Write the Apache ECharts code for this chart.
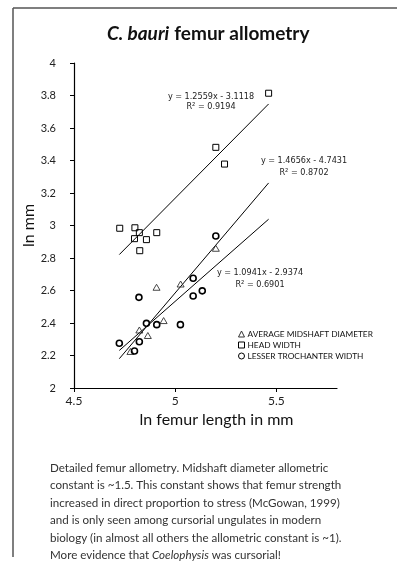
<!DOCTYPE html>
<html>
<head>
<meta charset="utf-8">
<script src="https://cdn.jsdelivr.net/npm/echarts@6/dist/echarts.min.js"></script>
<style>
html,body{margin:0;padding:0;background:#fff;}
#c{width:397px;height:566px;}
</style>
</head>
<body>
<div id="c"></div>
<script>
// ---- data ----
const seriesNames = ['Average midshaft diameter', 'Head width', 'Lesser trochanter width'];
const midX  = [4.779, 4.823, 4.865, 4.943, 4.908, 5.027, 5.201];
const midY  = [2.225, 2.357, 2.323, 2.415, 2.620, 2.640, 2.860];
const headX = [4.726, 4.801, 4.823, 4.799, 4.858, 4.909, 4.825, 5.201, 5.244, 5.462];
const headY = [2.983, 2.986, 2.956, 2.919, 2.913, 2.956, 2.845, 3.481, 3.378, 3.814];
const troX  = [4.724, 4.823, 4.799, 4.858, 4.909, 5.026, 4.821, 5.089, 5.089, 5.134, 5.201];
const troY  = [2.275, 2.285, 2.228, 2.398, 2.390, 2.390, 2.558, 2.675, 2.566, 2.598, 2.935];
// trendlines (head width, midshaft, trochanter), as printed on the chart
const trendSlope     = [1.2559, 1.4656, 1.0941];
const trendIntercept = [-3.1118, -4.7431, -2.9374];
const trendR2        = ['0.9194', '0.8702', '0.6901'];
const trendXRange    = [4.724, 5.462];
const xTicks = [4.5, 5, 5.5];

const zip = (xs, ys) => xs.map((x, i) => [x, ys[i]]);
const trendData = k => trendXRange.map(x => [x, trendSlope[k] * x + trendIntercept[k]]);
const eqText = k => 'y = ' + trendSlope[k] + 'x - ' + (-trendIntercept[k]).toFixed(4);
const r2Text = k => 'R\u00B2 = ' + trendR2[k];

const chart = echarts.init(document.getElementById('c'), null, {renderer: 'canvas'});
const F = 'Lato, "Open Sans", sans-serif';
const NARROW = '"Liberation Sans Narrow", "DejaVu Sans Condensed", Roboto, sans-serif';

const trendSeries = k => ({
  type: 'line', data: trendData(k), symbol: 'none', silent: true, z: 1,
  lineStyle: {color: '#000', width: 1}, animation: false
});

const eqLabel = (k, cx, y1, y2) => ([
  {type: 'text', x: cx, y: y1, style: {text: eqText(k), fill: '#222', font: '9px ' + NARROW, align: 'center', verticalAlign: 'middle'}},
  {type: 'text', x: cx, y: y2, style: {text: r2Text(k), fill: '#222', font: '9px ' + NARROW, align: 'center', verticalAlign: 'middle'}}
]);

const caption =
  'Detailed femur allometry. Midshaft diameter allometric\n' +
  'constant is ~1.5. This constant shows that femur strength\n' +
  'increased in direct proportion to stress (McGowan, 1999)\n' +
  'and is only seen among cursorial ungulates in modern\n' +
  'biology (in almost all others the allometric constant is ~1).\n' +
  'More evidence that {i|Coelophysis} was cursorial!';

chart.setOption({
  animation: false,
  backgroundColor: '#fff',
  title: {
    text: '{i|C. bauri} {b|femur allometry}',
    left: 102, top: 19,
    textStyle: {
      rich: {
        i: {fontFamily: F, fontSize: 19, fontWeight: 'bold', fontStyle: 'italic', color: '#111'},
        b: {fontFamily: F, fontSize: 19, fontWeight: 'bold', color: '#111'}
      }
    }
  },
  legend: {
    data: seriesNames,
    orient: 'vertical', left: 233, top: 325,
    itemWidth: 6, itemHeight: 6, itemGap: 3,
    formatter: n => n.toUpperCase(),
    itemStyle: {borderWidth: 1},
    textStyle: {fontFamily: F, fontSize: 8.3, color: '#111', lineHeight: 6, padding: [0, 0, 0, -2]},
    selectedMode: false
  },
  grid: {left: 74, right: 60, top: 63, bottom: 178, outerBoundsMode: 'none', containLabel: false},
  xAxis: {
    type: 'value', min: 4.5, max: 5.8, interval: 0.5,
    name: 'ln femur length in mm', nameLocation: 'middle', nameGap: 24, nameMoveOverlap: false,
    nameTextStyle: {fontFamily: F, fontSize: 16, color: '#111', padding: [0, 0, 0, 22]},
    axisLine: {show: true, onZero: false, lineStyle: {color: '#000', width: 1.2}},
    axisTick: {show: true, length: 4, customValues: xTicks, lineStyle: {color: '#000'}},
    axisLabel: {customValues: xTicks, fontFamily: F, fontSize: 12, color: '#222', margin: 7},
    splitLine: {show: false}
  },
  yAxis: {
    type: 'value', min: 2, max: 4, interval: 0.2,
    name: 'ln mm', nameLocation: 'middle', nameGap: 37, nameMoveOverlap: false,
    nameTextStyle: {fontFamily: F, fontSize: 16, color: '#111'},
    axisLine: {show: true, onZero: false, lineStyle: {color: '#000', width: 1.2}},
    axisTick: {show: true, length: 4, lineStyle: {color: '#000'}},
    axisLabel: {fontFamily: F, fontSize: 11, color: '#222', margin: 18},
    splitLine: {show: false}
  },
  series: [
    {
      name: seriesNames[0], type: 'scatter', data: zip(midX, midY),
      symbol: 'triangle', symbolSize: [7, 6], z: 3,
      itemStyle: {color: 'rgba(255,255,255,0)', borderColor: '#333', borderWidth: 0.9, opacity: 1}
    },
    {
      name: seriesNames[1], type: 'scatter', data: zip(headX, headY),
      symbol: 'rect', symbolSize: 6, z: 3,
      itemStyle: {color: 'rgba(255,255,255,0)', borderColor: '#000', borderWidth: 1, opacity: 1}
    },
    {
      name: seriesNames[2], type: 'scatter', data: zip(troX, troY),
      symbol: 'circle', symbolSize: 6, z: 3,
      itemStyle: {color: 'rgba(255,255,255,0)', borderColor: '#000', borderWidth: 1.6, opacity: 1}
    },
    trendSeries(0), trendSeries(1), trendSeries(2)
  ],
  graphic: [
    {type: 'line', shape: {x1: 13, y1: 8, x2: 397, y2: 8}, style: {stroke: '#555', lineWidth: 1.5}},
    {type: 'line', shape: {x1: 13, y1: 8, x2: 13, y2: 557}, style: {stroke: '#555', lineWidth: 1.5}},
    ...eqLabel(0, 211, 97, 107),
    ...eqLabel(1, 304, 161, 173),
    ...eqLabel(2, 260, 273, 285),
    {
      type: 'text', x: 50, y: 459,
      style: {
        text: caption, fill: '#333', font: '11.6px ' + F, lineHeight: 17.5,
        rich: {i: {fontStyle: 'italic', fontFamily: F, fontSize: 11.6, fill: '#333', lineHeight: 17.5}}
      }
    }
  ]
});
</script>
</body>
</html>
